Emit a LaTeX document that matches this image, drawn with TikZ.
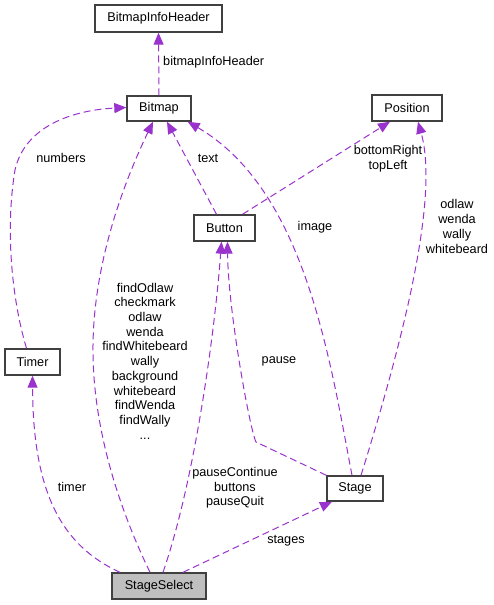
\documentclass[tikz,border=0pt]{standalone}
\usepackage{fontspec}
\setmainfont{Liberation Sans}
\usetikzlibrary{arrows.meta}
\definecolor{edgec}{HTML}{9A32CD}
\definecolor{boxfill}{HTML}{BFBFBF}
\definecolor{boxline}{HTML}{404040}
\begin{document}
\begin{tikzpicture}[x=1pt,y=-1pt,
  box/.style={draw=boxline, line width=1.4pt, fill=white, inner sep=0pt,
    font=\fontsize{12.7}{14.7}\selectfont},
  edge/.style={draw=edgec, line width=1pt, dash pattern=on 7pt off 4pt,
    -{Triangle[length=12pt,width=10pt,fill=edgec]}},
  lbl/.style={font=\fontsize{12.7}{14.7}\selectfont, align=center, inner sep=0pt}]
\useasboundingbox (0,0) rectangle (494,605);
% nodes
\node[box, minimum width=127pt, minimum height=27pt] (BIH) at (158.5,18.5) {BitmapInfoHeader};
\node[box, minimum width=64pt, minimum height=25pt] (Bitmap) at (159,108.5) {Bitmap};
\node[box, minimum width=70pt, minimum height=26pt] (Position) at (407,108) {Position};
\node[box, minimum width=61pt, minimum height=26pt] (Button) at (224.5,228) {Button};
\node[box, minimum width=55pt, minimum height=26pt] (Timer) at (32.5,362) {Timer};
\node[box, minimum width=94pt, minimum height=26pt, fill=boxfill] (SS) at (159,586) {StageSelect};
\node[box, minimum width=56pt, minimum height=25pt] (Stage) at (355,488.5) {Stage};
% edges
\draw[edge] (Bitmap.north) -- (BIH.south);
\draw[edge] ([xshift=-6pt]Timer.north) .. controls (12,300) and (5,230) .. (15,170)
  .. controls (25,125) and (75,110) .. ([yshift=1pt]Bitmap.west);
\draw[edge] ([xshift=-9pt]SS.north) .. controls (115,500) and (92,420) .. (93,345)
  .. controls (94,260) and (125,180) .. ([xshift=-6pt]Bitmap.south);
\draw[edge] ([xshift=4pt]SS.north) .. controls (195,480) and (215,330) .. ([xshift=-3pt]Button.south);
\draw[edge] (Stage.north west) -- (256,442) .. controls (250,430) and (228,310) .. ([xshift=3pt]Button.south);
\draw[edge] ([xshift=-3pt]Stage.north) .. controls (330,360) and (305,190) .. ([xshift=-4pt]Bitmap.south east);
\draw[edge] ([xshift=-8pt]Button.north) -- ([xshift=8pt]Bitmap.south);
\draw[edge] ([xshift=18pt]Button.north) -- ([xshift=-17pt]Position.south);
\draw[edge] ([xshift=6pt]Stage.north) .. controls (400,350) and (440,200) .. ([xshift=11pt]Position.south);
\draw[edge] ([xshift=-39pt]SS.north) .. controls (60,545) and (33,490) .. (Timer.south);
\draw[edge] ([xshift=24pt]SS.north) -- ([xshift=-23pt]Stage.south);
% labels
\node[lbl, anchor=west] (l1) at (163,62) {bitmapInfoHeader};
\node[lbl] (l2) at (61,158) {numbers};
\node[lbl] (l3) at (145,361) {findOdlaw\\checkmark\\odlaw\\wenda\\findWhitebeard\\wally\\background\\whitebeard\\findWenda\\findWally\\...};
\node[lbl] (l4) at (208,158) {text};
\node[lbl] (l5) at (388,159) {bottomRight\\topLeft};
\node[lbl] (l6) at (315,227) {image};
\node[lbl] (l7) at (457,226.5) {odlaw\\wenda\\wally\\whitebeard};
\node[lbl] (l8) at (279,361) {pause};
\node[lbl] (l9) at (235,488) {pauseContinue\\buttons\\pauseQuit};
\node[lbl] (l10) at (72,487) {timer};
\node[lbl] (l11) at (286,541) {stages};
\end{tikzpicture}
\end{document}
